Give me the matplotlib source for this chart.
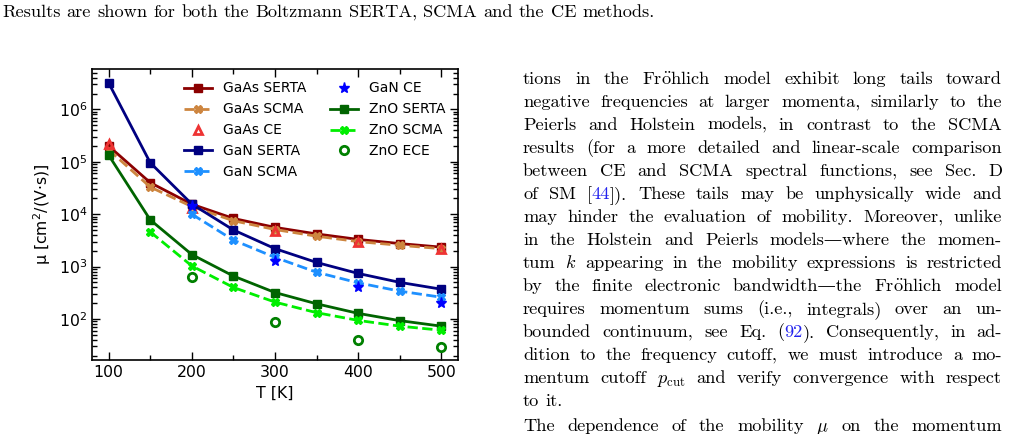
import numpy as np
import matplotlib
matplotlib.use('Agg')
import matplotlib.pyplot as plt

# temperatures (K)
T = [100, 150, 200, 250, 300, 350, 400, 450, 500]
T_CE = [100, 200, 300, 400, 500]
T_GAN_SCMA = [200, 250, 300, 350, 400, 450, 500]
T_GAN_CE = [200, 300, 400, 500]
T_ZNO_SCMA = [150, 200, 250, 300, 350, 400, 450, 500]
T_ZNO_ECE = [200, 300, 400, 500]

# mobilities, cm^2/(V s)
GAAS_SERTA = [2.0e5, 4.0e4, 1.55e4, 8.3e3, 5.6e3, 4.2e3, 3.3e3, 2.75e3, 2.35e3]
GAAS_SCMA = [1.7e5, 3.3e4, 1.4e4, 7.5e3, 5.1e3, 3.8e3, 3.0e3, 2.55e3, 2.2e3]
GAAS_CE = [2.2e5, 1.3e4, 4.8e3, 2.9e3, 2.15e3]
GAN_SERTA = [3.2e6, 9.6e4, 1.56e4, 5.0e3, 2.2e3, 1.2e3, 7.4e2, 5.0e2, 3.7e2]
GAN_SCMA = [1.0e4, 3.2e3, 1.5e3, 7.8e2, 4.9e2, 3.4e2, 2.6e2]
GAN_CE = [1.45e4, 1.3e3, 4.0e2, 2.0e2]
ZNO_SERTA = [1.34e5, 7.8e3, 1.7e3, 6.6e2, 3.2e2, 1.95e2, 1.28e2, 93, 73]
ZNO_SCMA = [4.6e3, 1.03e3, 4.0e2, 2.1e2, 1.32e2, 94, 73, 61]
ZNO_ECE = [6.2e2, 89, 40, 29]

# page text around the figure ('|' marks blue link pieces)
TOP_LINE = "Results are shown for both the Boltzmann SERTA, SCMA and the CE methods."
BLUE = '#2222ee'
FROH = "Fr$\\ddot{\\mathrm{o}}$hlich"
PARAGRAPH = [
    "tions in the " + FROH + " model exhibit long tails toward",
    "negative frequencies at larger momenta, similarly to the",
    "Peierls and Holstein models, in contrast to the SCMA",
    "results (for a more detailed and linear-scale comparison",
    "between CE and SCMA spectral functions, see Sec. D",
    "of SM [|44|]). These tails may be unphysically wide and",
    "may hinder the evaluation of mobility. Moreover, unlike",
    "in the Holstein and Peierls models—where the momen-",
    "tum $k$ appearing in the mobility expressions is restricted",
    "by the finite electronic bandwidth—the " + FROH + " model",
    "requires momentum sums (i.e., integrals) over an un-",
    "bounded continuum, see Eq. (|92|). Consequently, in ad-",
    "dition to the frequency cutoff, we must introduce a mo-",
    "mentum cutoff $p_{\\mathrm{cut}}$ and verify convergence with respect",
    "to it.",
    "The dependence of the mobility $\\mu$ on the momentum",
]
BASELINES = [84, 107, 130, 153, 176, 199, 222, 245, 268, 291, 314, 337, 360, 383, 406, 431]
JUSTIFY = [True] * 14 + [False, True]

W, H = 1009, 434
fig = plt.figure(figsize=(W / 100, H / 100), dpi=100)
ax = fig.add_axes([92 / W, 1 - 360 / H, (458 - 92) / W, (360 - 69) / H])

ax.plot(T, GAAS_SERTA, '-s', color='#8b0000', lw=2, ms=6, label='GaAs SERTA')
ax.plot(T, GAAS_SCMA, '--X', color='#cd853f', lw=2, ms=6, label='GaAs SCMA')
ax.plot(T_CE, GAAS_CE, '^', color='#ee3333', mfc='none', mew=2, ms=6, ls='none', label='GaAs CE')
ax.plot(T, GAN_SERTA, '-s', color='#000080', lw=2, ms=6, label='GaN SERTA')
ax.plot(T_GAN_SCMA, GAN_SCMA, '--X', color='#1e90ff', lw=2, ms=6, label='GaN SCMA')
ax.plot(T_GAN_CE, GAN_CE, '*', color='#0000ff', ms=8, ls='none', label='GaN CE')
ax.plot(T, ZNO_SERTA, '-s', color='#006400', lw=2, ms=6, label='ZnO SERTA')
ax.plot(T_ZNO_SCMA, ZNO_SCMA, '--X', color='#00ee00', lw=2, ms=6, label='ZnO SCMA')
ax.plot(T_ZNO_ECE, ZNO_ECE, 'o', color='#008000', mfc='none', mew=2, ms=6, ls='none', label='ZnO ECE')

ax.set_yscale('log')
ax.set_xlim(80, 520)
ax.set_ylim(16.5, 5.9e6)
ax.set_xticks([100, 200, 300, 400, 500])
ax.set_xticks(np.arange(150, 500, 100), minor=True)
ax.tick_params(which='both', direction='in', top=True, right=True, labelsize=11.3)
ax.tick_params(which='major', length=6, width=1)
ax.tick_params(which='minor', length=3.5, width=1)
for s in ax.spines.values():
    s.set_linewidth(1.2)
ax.set_xlabel('T [K]', fontsize=11.3)
ax.set_ylabel('μ [cm$^2$/(V$\\cdot$s)]', fontsize=11.3)
ax.legend(ncol=2, loc='upper right', frameon=False, fontsize=10, columnspacing=1.7)

# text of the page
serif = dict(family=['cmr10', 'DejaVu Serif'], math_fontfamily='cm', fontsize=13.2)
renderer = fig.canvas.get_renderer()


def width_of(t):
    return t.get_window_extent(renderer).width


def put_line(s, x0, x1, yb, justify):
    words = s.split(' ')
    items = []
    for w in words:
        parts = w.split('|')
        texts = []
        for i, p in enumerate(parts):
            if p == '':
                continue
            c = BLUE if i % 2 == 1 else 'black'
            texts.append(fig.text(0, 1 - yb / H, p, color=c, va='baseline', **serif))
        items.append(texts)
    widths = [sum(width_of(t) for t in ts) for ts in items]
    a = fig.text(0, 0, 'a a', **serif)
    b = fig.text(0, 0, 'aa', **serif)
    space = width_of(a) - width_of(b)
    a.remove()
    b.remove()
    if justify and len(items) > 1:
        gap = (x1 - x0 - sum(widths)) / (len(items) - 1)
    else:
        gap = space
    x = x0
    for ts, wd in zip(items, widths):
        xx = x
        for t in ts:
            t.set_x(xx / W)
            xx += width_of(t)
        x += wd + gap


put_line(TOP_LINE, 2, 655, 17, False)
for line, yb, j in zip(PARAGRAPH, BASELINES, JUSTIFY):
    put_line(line, 523, 1002, yb, j)

fig.savefig('out.png', dpi=100)
